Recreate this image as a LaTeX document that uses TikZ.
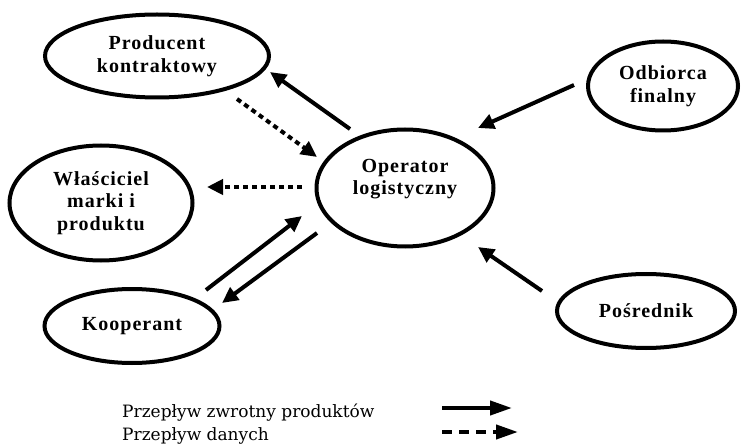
\documentclass[tikz,border=0pt]{standalone}
\usepackage{fontspec}
\setmainfont{Liberation Serif}
\newfontfamily\lsfont[LetterSpace=5]{Liberation Serif}
\newfontfamily\lgfont{DejaVu Serif}
\usetikzlibrary{shapes.geometric,arrows.meta}
\begin{document}
\begin{tikzpicture}[x=1pt,y=-1pt,
  ell/.style={draw,line width=4pt,ellipse,inner sep=0pt,align=center,
    font=\lsfont\fontsize{20}{22.5}\selectfont\bfseries},
  flow/.style={line width=4pt,-{Triangle[length=16pt,width=15pt]}},
  data/.style={flow,dash pattern=on 5pt off 4pt},
  lgflow/.style={line width=4pt,-{Triangle[length=22pt,width=14pt]}},
  lgdata/.style={lgflow,dash pattern=on 10pt off 7pt},
  lgtext/.style={anchor=base west,inner sep=0pt,font=\lgfont\fontsize{17}{22}\selectfont}]
\useasboundingbox (0,0) rectangle (741,446);
% nodes
\node[ell,minimum width=224pt,minimum height=83pt] (prod) at (157,56) {Producent\\kontraktowy};
\node[ell,minimum width=183pt,minimum height=115pt] (wlas) at (101,203) {Właściciel\\marki i\\produktu};
\node[ell,minimum width=177pt,minimum height=117pt] (op) at (405,188) {Operator\\logistyczny\\\mbox{}};
\node[ell,minimum width=150pt,minimum height=89pt] (odb) at (663,86) {Odbiorca\\finalny};
\node[ell,minimum width=175pt,minimum height=74pt] (koop) at (132,326) {Kooperant};
\node[ell,minimum width=178pt,minimum height=74pt] (pos) at (646,311) {Pośrednik};
% connector end points
\coordinate (opA) at (350,129); \coordinate (prodA) at (270,72);
\coordinate (prodB) at (237,99); \coordinate (opB) at (317,157);
\coordinate (opC) at (302,187); \coordinate (wlasC) at (207,187);
\coordinate (odbD) at (574,85); \coordinate (opD) at (478,128);
\coordinate (posE) at (542,291); \coordinate (opE) at (478,247);
\coordinate (koopF) at (206,290); \coordinate (opF) at (302,216);
\coordinate (opG) at (317,233); \coordinate (koopG) at (222,303);
% connectors
\draw[flow] (opA) -- (prodA);
\draw[data] (prodB) -- (opB);
\draw[data] (opC) -- (wlasC);
\draw[flow] (odbD) -- (opD);
\draw[flow] (posE) -- (opE);
\draw[flow] (koopF) -- (opF);
\draw[flow] (opG) -- (koopG);
% legend
\node[lgtext] (l1) at (122,417) {Przepływ zwrotny produktów};
\node[lgtext] (l2) at (122,440) {Przepływ danych};
\coordinate (s1) at (442,408); \coordinate (e1) at (512,408);
\coordinate (s2) at (442,432); \coordinate (e2) at (518,432);
\draw[lgflow] (s1) -- (e1);
\draw[lgdata] (s2) -- (e2);
\end{tikzpicture}
\end{document}
